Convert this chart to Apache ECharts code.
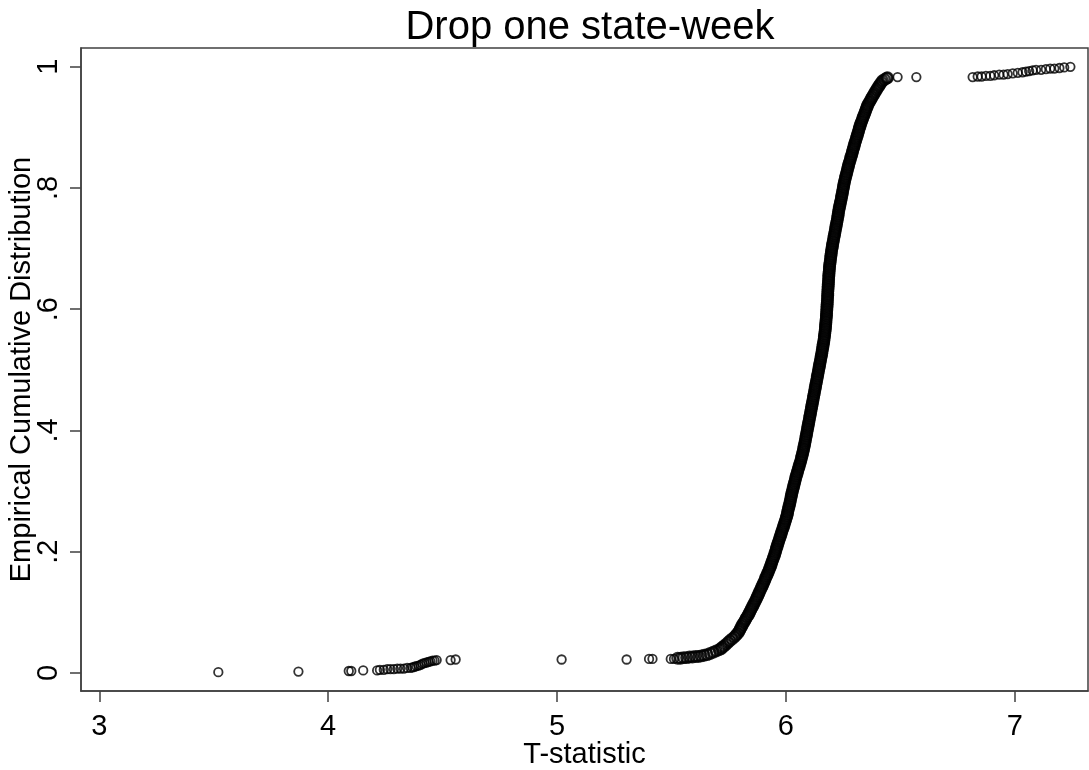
<!DOCTYPE html>
<html>
<head>
<meta charset="utf-8">
<script src="https://cdn.jsdelivr.net/npm/echarts@6/dist/echarts.min.js"></script>
<style>
  html, body { margin: 0; padding: 0; background: #fff; }
  #chart { width: 1089px; height: 770px; }
</style>
</head>
<body>
<div id="chart"></div>
<script>
// ECDF of the T-statistic, [tstat, cumulative share]
var lowerTail = [[3.520,0.001],[3.870,0.002],[4.090,0.003],[4.101,0.003],[4.153,0.004],[4.214,0.004],[4.226,0.005],[4.243,0.005],[4.258,0.006],[4.272,0.006],[4.287,0.006],[4.302,0.007],[4.316,0.007],[4.331,0.007],[4.345,0.008],[4.360,0.008],[4.369,0.009],[4.377,0.010],[4.386,0.011],[4.395,0.012],[4.404,0.013],[4.412,0.015],[4.421,0.016],[4.430,0.017],[4.439,0.018],[4.447,0.019],[4.456,0.020],[4.465,0.020],[4.474,0.021],[4.535,0.021],[4.557,0.022],[5.020,0.022],[5.304,0.022],[5.402,0.023],[5.417,0.023],[5.497,0.023],[5.511,0.023]];

var body = [[5.527,0.024],[5.540,0.024],[5.553,0.025],[5.566,0.025],[5.579,0.026],[5.592,0.026],[5.605,0.027],[5.618,0.027],[5.630,0.028],[5.643,0.029],[5.656,0.030],[5.669,0.032],[5.682,0.034],[5.695,0.036],[5.708,0.038],[5.717,0.040],[5.722,0.042],
[5.729,0.044],[5.738,0.047],[5.747,0.050],[5.755,0.053],[5.765,0.056],[5.775,0.059],[5.782,0.062],[5.789,0.065],[5.795,0.068],[5.799,0.071],[5.803,0.074],[5.807,0.077],[5.811,0.080],[5.816,0.083],[5.821,0.086],[5.825,0.089],[5.830,0.092],[5.835,0.095],[5.839,0.098],[5.843,0.101],[5.847,0.104],
[5.851,0.107],[5.855,0.110],[5.859,0.113],[5.863,0.116],[5.867,0.119],[5.871,0.122],[5.875,0.125],[5.878,0.128],[5.882,0.131],[5.885,0.134],[5.889,0.137],[5.893,0.140],[5.896,0.143],[5.900,0.146],[5.903,0.149],[5.907,0.152],[5.910,0.155],[5.913,0.158],[5.917,0.161],[5.920,0.164],[5.924,0.167],[5.927,0.170],
[5.930,0.173],[5.933,0.176],[5.936,0.179],[5.938,0.182],[5.941,0.185],[5.944,0.188],[5.947,0.191],[5.950,0.194],[5.952,0.197],[5.955,0.200],[5.957,0.203],[5.959,0.206],[5.962,0.209],[5.964,0.212],[5.967,0.215],[5.969,0.218],[5.972,0.221],[5.975,0.224],[5.977,0.227],[5.980,0.230],[5.982,0.233],[5.985,0.236],
[5.988,0.239],[5.990,0.242],[5.993,0.245],[5.995,0.248],[5.998,0.251],[6.000,0.254],[6.003,0.257],[6.005,0.260],[6.007,0.263],[6.008,0.266],[6.010,0.269],[6.012,0.272],[6.014,0.275],[6.016,0.278],[6.018,0.281],[6.019,0.284],[6.021,0.287],[6.023,0.290],[6.024,0.293],[6.026,0.296],[6.028,0.299],
[6.030,0.302],[6.032,0.305],[6.034,0.308],[6.036,0.311],[6.038,0.314],[6.040,0.317],[6.042,0.320],[6.044,0.323],[6.046,0.326],[6.049,0.329],[6.051,0.332],[6.053,0.335],[6.056,0.338],[6.058,0.341],[6.060,0.344],[6.063,0.347],[6.065,0.350],[6.067,0.353],[6.069,0.356],[6.071,0.359],[6.073,0.362],
[6.075,0.365],[6.077,0.368],[6.078,0.371],[6.080,0.374],[6.082,0.377],[6.083,0.380],[6.085,0.383],[6.086,0.386],[6.088,0.389],[6.089,0.392],[6.091,0.395],[6.092,0.398],[6.094,0.401],[6.095,0.404],[6.097,0.407],[6.098,0.410],[6.100,0.413],[6.101,0.416],[6.103,0.419],[6.104,0.422],[6.106,0.425],[6.107,0.428],
[6.109,0.431],[6.110,0.434],[6.112,0.437],[6.113,0.440],[6.115,0.443],[6.116,0.446],[6.118,0.449],[6.119,0.452],[6.121,0.455],[6.122,0.458],[6.124,0.461],[6.125,0.464],[6.127,0.467],[6.128,0.470],[6.130,0.473],[6.131,0.476],[6.133,0.479],[6.134,0.482],[6.136,0.485],[6.137,0.488],[6.139,0.491],[6.140,0.494],
[6.142,0.497],[6.143,0.500],[6.145,0.503],[6.146,0.506],[6.148,0.509],[6.149,0.512],[6.151,0.515],[6.152,0.518],[6.154,0.521],[6.155,0.524],[6.157,0.527],[6.158,0.530],[6.159,0.533],[6.161,0.536],[6.162,0.539],[6.163,0.542],[6.165,0.545],[6.166,0.548],[6.167,0.551],[6.168,0.554],[6.169,0.557],[6.170,0.560],
[6.171,0.563],[6.172,0.566],[6.173,0.569],[6.173,0.572],[6.174,0.575],[6.175,0.578],[6.175,0.581],[6.176,0.584],[6.177,0.587],[6.177,0.590],[6.178,0.593],[6.178,0.596],[6.179,0.599],[6.179,0.602],[6.180,0.605],[6.180,0.608],[6.181,0.611],[6.181,0.614],[6.182,0.617],[6.182,0.620],[6.183,0.623],
[6.183,0.626],[6.183,0.629],[6.184,0.632],[6.184,0.635],[6.185,0.638],[6.185,0.641],[6.186,0.644],[6.186,0.647],[6.187,0.650],[6.187,0.653],[6.188,0.656],[6.188,0.659],[6.189,0.662],[6.190,0.665],[6.190,0.668],[6.191,0.671],[6.192,0.674],[6.193,0.677],[6.194,0.680],[6.195,0.683],[6.196,0.686],[6.197,0.689],
[6.198,0.692],[6.199,0.695],[6.200,0.698],[6.202,0.701],[6.203,0.704],[6.204,0.707],[6.206,0.710],[6.207,0.713],[6.209,0.716],[6.210,0.719],[6.212,0.722],[6.213,0.725],[6.215,0.728],[6.216,0.731],[6.218,0.734],[6.219,0.737],[6.221,0.740],[6.222,0.743],[6.224,0.746],[6.225,0.749],[6.227,0.752],[6.228,0.755],
[6.229,0.758],[6.230,0.761],[6.232,0.764],[6.233,0.767],[6.235,0.770],[6.237,0.773],[6.238,0.776],[6.240,0.779],[6.242,0.782],[6.243,0.785],[6.245,0.788],[6.246,0.791],[6.248,0.794],[6.249,0.797],[6.251,0.800],[6.252,0.803],[6.254,0.806],
[6.255,0.809],[6.257,0.812],[6.259,0.815],[6.261,0.818],[6.263,0.821],[6.265,0.824],[6.267,0.827],[6.269,0.830],[6.271,0.833],[6.273,0.836],[6.275,0.839],[6.277,0.842],[6.280,0.845],[6.282,0.848],[6.284,0.851],[6.287,0.854],[6.289,0.857],[6.291,0.860],[6.293,0.863],[6.296,0.866],[6.298,0.869],[6.300,0.872],
[6.302,0.875],[6.305,0.878],[6.307,0.881],[6.310,0.884],[6.312,0.887],[6.314,0.890],[6.317,0.893],[6.319,0.896],[6.321,0.899],[6.324,0.902],[6.326,0.905],[6.329,0.908],[6.332,0.911],[6.335,0.914],[6.338,0.917],[6.341,0.920],[6.344,0.923],[6.347,0.926],[6.350,0.929],[6.353,0.932],[6.356,0.935],[6.359,0.938],
[6.364,0.941],[6.368,0.944],[6.373,0.947],[6.377,0.950],[6.382,0.953],[6.386,0.956],[6.391,0.959],[6.396,0.962],[6.401,0.965],[6.406,0.968],[6.411,0.971],[6.417,0.974],[6.422,0.977],[6.431,0.979],[6.440,0.981],[6.444,0.982]];

var upperTail = [[6.488,0.983],[6.570,0.983],[6.816,0.983],[6.838,0.984],[6.855,0.984],[6.874,0.985],[6.893,0.985],[6.910,0.986],[6.932,0.987],[6.951,0.987],[6.969,0.988],[6.991,0.989],[7.013,0.990],[7.034,0.991],[7.049,0.992],[7.063,0.993],[7.078,0.994],[7.093,0.995],[7.115,0.995],[7.136,0.996],[7.155,0.997],[7.173,0.997],[7.195,0.998],[7.216,0.999],[7.243,1.000]];

var xTicks = [3, 4, 5, 6, 7];
var yTicks = [0, 0.2, 0.4, 0.6, 0.8, 1];
var yTickLabels = ['0', '.2', '.4', '.6', '.8', '1'];

var chart = echarts.init(document.getElementById('chart'));

var font = 'Liberation Sans, Arial, sans-serif';
var axisColor = '#404040';

var ring = {
  color: 'rgba(0,0,0,0)',
  borderColor: '#000',
  borderWidth: 1.8
};

var option = {
  animation: false,
  backgroundColor: '#fff',
  title: {
    text: 'Drop one state-week',
    left: 585,
    top: 3,
    textAlign: 'center',
    textStyle: {
      fontFamily: font,
      fontSize: 40,
      fontWeight: 'normal',
      color: '#000'
    }
  },
  grid: {
    left: 81,
    right: 1,
    top: 48,
    bottom: 79,
    outerBoundsMode: 'none',
    containLabel: false,
    show: true,
    borderColor: axisColor,
    borderWidth: 1.5
  },
  xAxis: {
    type: 'value',
    min: 2.92,
    max: 7.32,
    name: 'T-statistic',
    nameLocation: 'middle',
    nameGap: 49,
    nameMoveOverlap: false,
    nameTextStyle: { fontFamily: font, fontSize: 29, color: '#000' },
    axisLine: { show: true, onZero: false, lineStyle: { color: axisColor, width: 1.5 } },
    axisTick: { show: true, length: 11, customValues: xTicks, lineStyle: { color: axisColor, width: 1.5 } },
    axisLabel: {
      customValues: xTicks,
      margin: 21,
      fontFamily: font,
      fontSize: 29,
      color: '#000'
    },
    splitLine: { show: false }
  },
  yAxis: {
    type: 'value',
    min: -0.03,
    max: 1.031,
    name: 'Empirical Cumulative Distribution',
    nameLocation: 'middle',
    nameGap: 45,
    nameMoveOverlap: false,
    nameTextStyle: { fontFamily: font, fontSize: 29, color: '#000' },
    axisLine: { show: true, onZero: false, lineStyle: { color: axisColor, width: 1.5 } },
    axisTick: { show: true, length: 11, customValues: yTicks, lineStyle: { color: axisColor, width: 1.5 } },
    axisLabel: {
      customValues: yTicks,
      rotate: 90,
      margin: 18,
      fontFamily: font,
      fontSize: 29,
      color: '#000',
      formatter: function (v) {
        for (var i = 0; i < yTicks.length; i++) {
          if (Math.abs(yTicks[i] - v) < 1e-6) return yTickLabels[i];
        }
        return '';
      }
    },
    splitLine: { show: false }
  },
  series: [
    {
      type: 'scatter',
      symbol: 'circle',
      symbolSize: 8.5,
      data: lowerTail,
      itemStyle: ring,
      silent: true
    },
    {
      type: 'scatter',
      symbol: 'circle',
      symbolSize: 10.5,
      data: body,
      itemStyle: { color: 'rgba(0,0,0,0)', borderColor: '#000', borderWidth: 2.4 },
      silent: true
    },
    {
      type: 'scatter',
      symbol: 'circle',
      symbolSize: 8.5,
      data: upperTail,
      itemStyle: ring,
      silent: true
    }
  ]
};

chart.setOption(option);
</script>
</body>
</html>
